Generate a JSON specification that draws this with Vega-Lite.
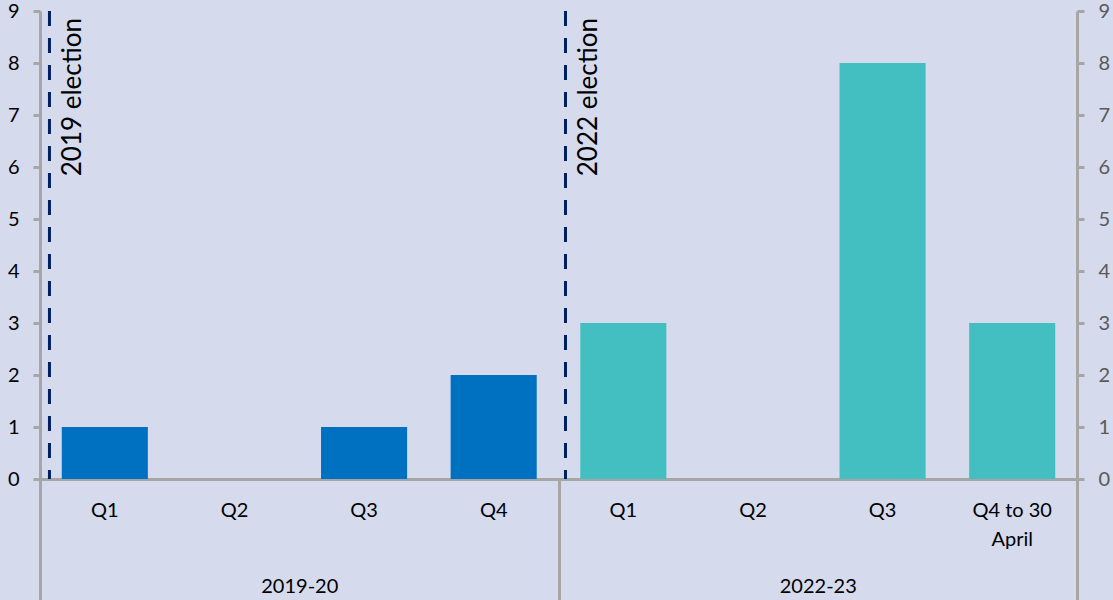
{
  "$schema": "https://vega.github.io/schema/vega-lite/v6.json",
  "width": 1037,
  "height": 468,
  "autosize": "none",
  "padding": {"left": 40, "top": 11, "right": 36, "bottom": 121},
  "background": "#D5DAEC",
  "config": {"view": {"stroke": null}, "font": "Lato"},
  "data": {
    "values": [
      {"cat": "2019-20 Q1", "period": "2019-20", "count": 1},
      {"cat": "2019-20 Q2", "period": "2019-20", "count": 0},
      {"cat": "2019-20 Q3", "period": "2019-20", "count": 1},
      {"cat": "2019-20 Q4", "period": "2019-20", "count": 2},
      {"cat": "2022-23 Q1", "period": "2022-23", "count": 3},
      {"cat": "2022-23 Q2", "period": "2022-23", "count": 0},
      {"cat": "2022-23 Q3", "period": "2022-23", "count": 8},
      {"cat": "2022-23 Q4 to 30 April", "period": "2022-23", "count": 3}
    ]
  },
  "layer": [
    {
      "mark": {"type": "bar"},
      "encoding": {
        "x": {
          "field": "cat", "type": "nominal", "sort": null,
          "scale": {"paddingInner": 0.336, "paddingOuter": 0.168},
          "axis": {
            "orient": "bottom", "title": null, "ticks": false, "tickSize": 0,
            "domainColor": "#A6A6A6", "domainWidth": 3,
            "labelExpr": "substring(datum.value, 8) == 'Q4 to 30 April' ? ['Q4 to 30', 'April'] : substring(datum.value, 8)",
            "labelFontSize": 20, "labelColor": "#000000", "labelPadding": 21,
            "labelAngle": 0, "labelLineHeight": 29, "labelOverlap": false
          }
        },
        "y": {
          "field": "count", "type": "quantitative",
          "scale": {"domain": [0, 9], "nice": false},
          "axis": {
            "orient": "left", "title": null, "values": [0, 1, 2, 3, 4, 5, 6, 7, 8, 9],
            "grid": false, "tickColor": "#A6A6A6", "tickWidth": 3, "tickSize": 7,
            "domainColor": "#A6A6A6", "domainWidth": 3,
            "labelFontSize": 20, "labelColor": "#000000", "labelPadding": 14, "labelDy": 1
          }
        },
        "color": {
          "field": "period", "type": "nominal",
          "scale": {"domain": ["2019-20", "2022-23"], "range": ["#0070C0", "#44BFC1"]},
          "legend": null
        }
      }
    },
    {
      "mark": {"type": "bar", "opacity": 0},
      "encoding": {
        "x": {
          "field": "cat", "type": "nominal", "sort": null,
          "scale": {"paddingInner": 0, "paddingOuter": 0},
          "axis": {
            "orient": "bottom", "title": null, "domain": false,
            "values": ["2019-20 Q1", "2019-20 Q4", "2022-23 Q4 to 30 April"],
            "tickBand": "extent", "tickSize": 121, "tickColor": "#A6A6A6", "tickWidth": 3,
            "tickOpacity": {"condition": {"test": "datum.value === '2019-20 Q1'", "value": 0}, "value": 1},
            "labelExpr": "isValid(datum.value) && substring(datum.value, 8, 10) == 'Q4' ? substring(datum.value, 0, 7) : ''",
            "labelOffset": -194.4, "labelPadding": -23.5,
            "labelFontSize": 20, "labelColor": "#000000", "labelAngle": 0, "labelOverlap": false
          }
        },
        "y": {
          "field": "count", "type": "quantitative",
          "axis": {
            "orient": "right", "title": null, "values": [0, 1, 2, 3, 4, 5, 6, 7, 8, 9],
            "grid": false, "tickColor": "#A6A6A6", "tickWidth": 3, "tickSize": 7,
            "domainColor": "#A6A6A6", "domainWidth": 3,
            "labelFontSize": 20, "labelColor": "#595959", "labelPadding": 14, "labelDy": 1
          }
        }
      }
    },
    {
      "data": {
        "values": [
          {"event": "2019 election", "pos": 0.073},
          {"event": "2022 election", "pos": 4.054}
        ]
      },
      "layer": [
        {
          "mark": {"type": "rule", "color": "#002060", "strokeWidth": 3, "strokeDash": [15, 12]},
          "encoding": {
            "x": {"field": "pos", "type": "quantitative", "scale": {"domain": [0, 8], "nice": false, "zero": false}, "axis": null}
          }
        },
        {
          "mark": {"type": "text", "angle": 270, "align": "right", "baseline": "middle", "dx": -7, "dy": 24, "fontSize": 26, "color": "#000000"},
          "encoding": {
            "x": {"field": "pos", "type": "quantitative", "scale": {"domain": [0, 8], "nice": false, "zero": false}, "axis": null},
            "y": {"datum": 9, "type": "quantitative", "axis": null},
            "text": {"field": "event"}
          }
        }
      ]
    }
  ],
  "resolve": {
    "scale": {"x": "independent"},
    "axis": {"x": "independent", "y": "independent"}
  }
}
